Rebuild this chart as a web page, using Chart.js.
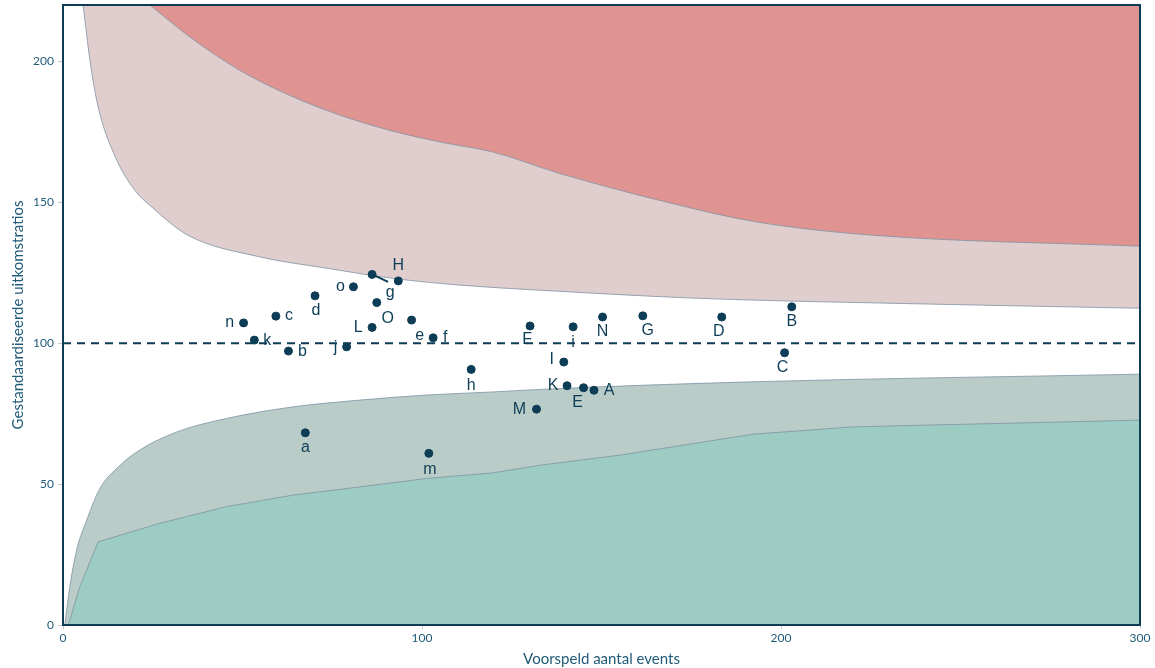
<!DOCTYPE html>
<html>
<head>
<meta charset="utf-8">
<script src="https://cdn.jsdelivr.net/npm/chart.js@4"></script>
<style>
  body { margin: 0; background: #fff; }
  #wrap { width: 1155px; height: 668px; }
</style>
</head>
<body>
<div id="wrap"><canvas id="chart" width="1155" height="668"></canvas></div>
<script>
const upperOuterX = [24.2, 35.4, 49.3, 63.2, 77.2, 91.1, 105, 119.8, 138.4, 169.9, 193.3, 225.6, 300];
const upperOuterY = [220, 208.6, 196.8, 187.9, 180.9, 175.5, 171.4, 167.8, 160.2, 149.5, 143, 138.3, 134.4];
const upperInnerX = [5.6, 7.5, 9.8, 15, 20, 25.1, 34.8, 54.9, 73.5, 91.9, 110.6, 132.9, 177.4, 233, 300];
const upperInnerY = [220, 200.4, 183.8, 164.9, 154.3, 147.9, 138.3, 130.6, 126.6, 123, 120.6, 118.8, 115.9, 114.1, 112.4];
const lowerInnerX = [0.5, 1.9, 3.8, 6.6, 10.3, 15.4, 21.4, 31.7, 45.6, 64.1, 82.7, 101.3, 119.8, 132.9, 192.2, 300];
const lowerInnerY = [0, 13.6, 26.6, 37.2, 48.5, 56.1, 62.1, 68.5, 73.3, 77.4, 79.8, 81.6, 82.7, 83.6, 86.3, 89];
const lowerOuterX = [1.5, 4.7, 9.8, 27, 45.6, 64.1, 82.7, 101.3, 119.8, 132.9, 155.2, 192.2, 220, 300];
const lowerOuterY = [0, 13.6, 29.5, 36.1, 42, 46.1, 49, 52, 54, 56.7, 60.3, 67.7, 70.3, 72.7];

// ziekenhuizen
const labels = ['n','k','c','b','d','j','o','g','H','O','L','e','f','h','F','i','N','G','D','B','C','I','K','E','A','M','a','m'];
const expected = [50.3,53.3,59.3,62.8,70.2,79.0,80.9,86.1,93.4,87.4,86.1,97.1,103.1,113.7,130.1,142.1,150.3,161.5,183.5,203,201,139.5,140.4,145,147.9,131.9,67.5,101.9];
const ratio = [107.2,101.1,109.6,97.2,116.8,98.7,120,124.4,122.1,114.4,105.6,108.2,101.9,90.7,106.1,105.8,109.3,109.7,109.3,112.9,96.6,93.3,84.9,84.2,83.3,76.6,68.2,60.9];

const refValue = 100;
const xTicks = [0, 100, 200, 300];
const yTicks = [0, 50, 100, 150, 200];

// label posities t.o.v. punt (px)
const labelOffsets = {
  n: [-14, 0], k: [13, 1], c: [13, -1], b: [14, 1], d: [1, 15], j: [-11, 1], o: [-13, 0],
  g: [18, 18], H: [0, -15], O: [11, 16], L: [-14, 0], e: [8, 16], f: [12, 0], h: [0, 16],
  F: [-3, 14], i: [0, 16], N: [0, 15], G: [5, 15], D: [-3, 15], B: [0, 15], C: [-2, 15],
  I: [-12, -2], K: [-14, 0], E: [-6, 15], A: [15, 0], M: [-17, 0], a: [0, 15], m: [1, 16]
};

const navy = '#0d3d56';
const edge = '#7f93a3';
const toXY = (xs, ys) => xs.map((x, i) => ({ x: x, y: ys[i] }));

const pointLabels = {
  id: 'pointLabels',
  afterDatasetsDraw(chart) {
    const ctx = chart.ctx;
    const meta = chart.getDatasetMeta(0);
    ctx.save();
    ctx.font = '16px "Liberation Sans", Arial, sans-serif';
    ctx.fillStyle = navy;
    ctx.strokeStyle = navy;
    ctx.textAlign = 'center';
    ctx.textBaseline = 'middle';
    meta.data.forEach((pt, i) => {
      const lab = labels[i];
      const off = labelOffsets[lab] || [0, 15];
      if (lab === 'g') {
        ctx.lineWidth = 2;
        ctx.beginPath();
        ctx.moveTo(pt.x, pt.y);
        ctx.lineTo(pt.x + 16, pt.y + 7.5);
        ctx.stroke();
      }
      ctx.fillText(lab, pt.x + off[0], pt.y + off[1]);
    });
    ctx.restore();
  },
  afterDraw(chart) {
    const a = chart.chartArea;
    const ctx = chart.ctx;
    ctx.save();
    ctx.strokeStyle = navy;
    ctx.lineWidth = 2;
    ctx.strokeRect(a.left, a.top, a.right - a.left, a.bottom - a.top);
    ctx.restore();
  }
};

const band = (name, xs, ys, fill, colour, smooth) => ({
  label: name,
  data: toXY(xs, ys),
  showLine: true,
  borderColor: edge,
  borderWidth: 0.8,
  pointRadius: 0,
  tension: 0,
  cubicInterpolationMode: smooth ? 'monotone' : 'default',
  fill: fill,
  backgroundColor: colour
});

new Chart(document.getElementById('chart'), {
  type: 'scatter',
  data: {
    datasets: [
      {
        label: 'ziekenhuizen',
        data: toXY(expected, ratio),
        backgroundColor: navy,
        borderColor: navy,
        pointRadius: 4,
        pointHoverRadius: 4
      },
      {
        label: 'referentie',
        data: [{ x: 0, y: refValue }, { x: 300, y: refValue }],
        showLine: true,
        borderColor: navy,
        borderWidth: 2,
        borderDash: [8, 6],
        pointRadius: 0,
        fill: false
      },
      band('boven 99.8', upperOuterX, upperOuterY, 'end', '#e09492', true),
      band('boven 95', upperInnerX, upperInnerY, 'end', '#e0cdce', true),
      band('onder 99.8', lowerOuterX, lowerOuterY, 'start', '#9dccc3', false),
      band('onder 95', lowerInnerX, lowerInnerY, 'start', '#b9ccc8', true)
    ]
  },
  options: {
    responsive: false,
    animation: false,
    layout: { padding: { left: 0, right: 15, top: 5, bottom: 0 } },
    plugins: { legend: { display: false }, tooltip: { enabled: false } },
    scales: {
      x: {
        type: 'linear',
        min: 0,
        max: 300,
        afterBuildTicks: s => { s.ticks = xTicks.map(v => ({ value: v })); },
        afterFit: s => { s.height = 43; s.paddingLeft = 0; s.paddingRight = 0; },
        grid: { drawOnChartArea: false, drawTicks: true, tickLength: 4, color: '#c8c8c8' },
        border: { display: false },
        ticks: { color: '#1f5a78', font: { family: 'Lato', size: 12 }, padding: 2, maxRotation: 0 },
        title: { display: true, text: 'Voorspeld aantal events', color: '#1f5a78',
                 font: { family: 'Lato', size: 15 }, padding: { top: 0, bottom: 0 } }
      },
      y: {
        type: 'linear',
        min: 0,
        max: 220,
        afterBuildTicks: s => { s.ticks = yTicks.map(v => ({ value: v })); },
        afterFit: s => { s.width = 63; s.paddingTop = 0; s.paddingBottom = 0; },
        grid: { drawOnChartArea: false, drawTicks: true, tickLength: 5, color: '#c8c8c8' },
        border: { display: false },
        ticks: { color: '#1f5a78', font: { family: 'Lato', size: 12 }, padding: 4 },
        title: { display: true, text: 'Gestandaardiseerde uitkomstratios', color: '#1f5a78',
                 font: { family: 'Lato', size: 15 }, padding: { top: 9, bottom: 4 } }
      }
    }
  },
  plugins: [pointLabels]
});
</script>
</body>
</html>
